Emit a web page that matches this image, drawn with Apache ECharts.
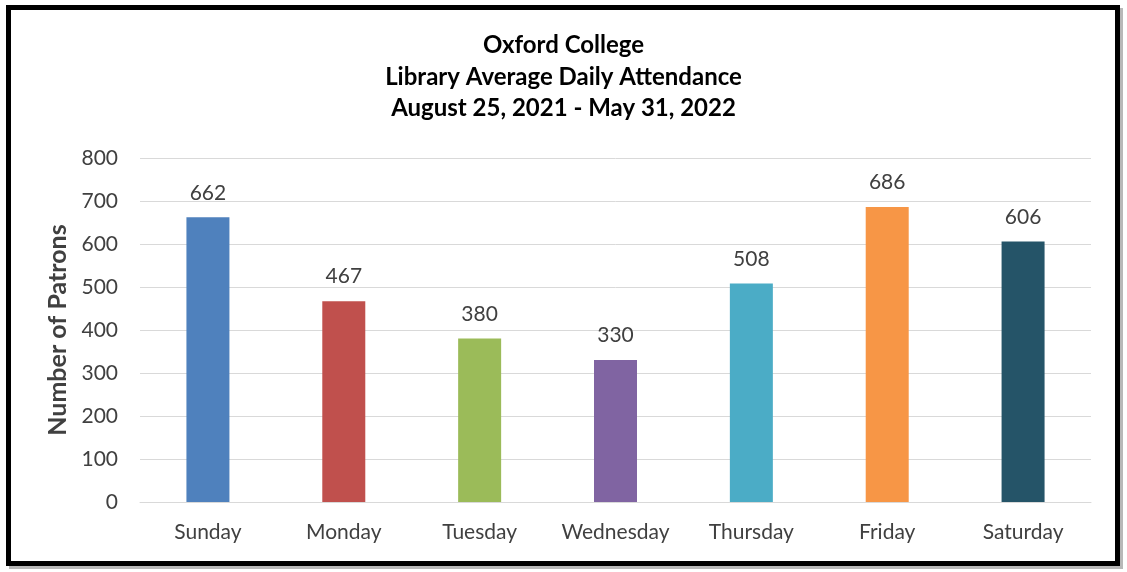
<!DOCTYPE html>
<html><head><meta charset="utf-8">
<script src="https://cdn.jsdelivr.net/npm/echarts@6/dist/echarts.min.js"></script>
<style>html,body{margin:0;padding:0;background:#fff}#c{width:1127px;height:572px}</style>
</head><body><div id="c"></div>
<script>
const categories = ['Sunday','Monday','Tuesday','Wednesday','Thursday','Friday','Saturday'];
const values = [662, 467, 380, 330, 508, 686, 606];
const colors = ['#4F81BD','#C0504D','#9BBB59','#8064A2','#4BACC6','#F79646','#255468'];
const titleLines = ['Oxford College','Library Average Daily Attendance','August 25, 2021 - May 31, 2022'];
const yName = 'Number of Patrons';

const FONT = 'Lato, "Open Sans", sans-serif';
const chart = echarts.init(document.getElementById('c'));
chart.setOption({
  animation: false,
  backgroundColor: '#fff',
  graphic: [
    {type:'rect', shape:{x:9,y:8,width:1114,height:561}, style:{fill:'#b8b8b8'}, z:-10, silent:true},
    {type:'rect', shape:{x:8.5,y:7.5,width:1109,height:556}, style:{fill:'#fff', stroke:'#000', lineWidth:5}, z:-9, silent:true}
  ],
  title: {
    text: titleLines.join('\n'),
    left: 'center', top: 25,
    textStyle: {fontFamily: FONT, fontWeight: 'bold', fontSize: 24, color: '#000', lineHeight: 31.5}
  },
  grid: {left: 140, right: 36, top: 158, bottom: 70},
  xAxis: {
    type: 'category', data: categories,
    axisLine: {lineStyle: {color: '#d9d9d9', width: 1}},
    axisTick: {show: false},
    axisLabel: {interval: 0, hideOverlap: false, fontFamily: FONT, fontSize: 21, color: '#404040', margin: 20}
  },
  yAxis: {
    type: 'value', min: 0, max: 800, interval: 100,
    name: yName, nameLocation: 'middle', nameGap: 66,
    nameTextStyle: {fontFamily: FONT, fontWeight: 'bold', fontSize: 25, color: '#404040'},
    axisLine: {show: false}, axisTick: {show: false},
    splitLine: {lineStyle: {color: '#d9d9d9', width: 1}},
    axisLabel: {fontFamily: FONT, fontSize: 21, color: '#404040', margin: 22}
  },
  series: [{
    type: 'bar', barWidth: 43,
    data: values.map((v,i)=>({value: v, itemStyle: {color: colors[i]}})),
    label: {show: true, position: 'top', distance: 14, fontFamily: FONT, fontSize: 21, color: '#404040'}
  }]
});
</script></body></html>
